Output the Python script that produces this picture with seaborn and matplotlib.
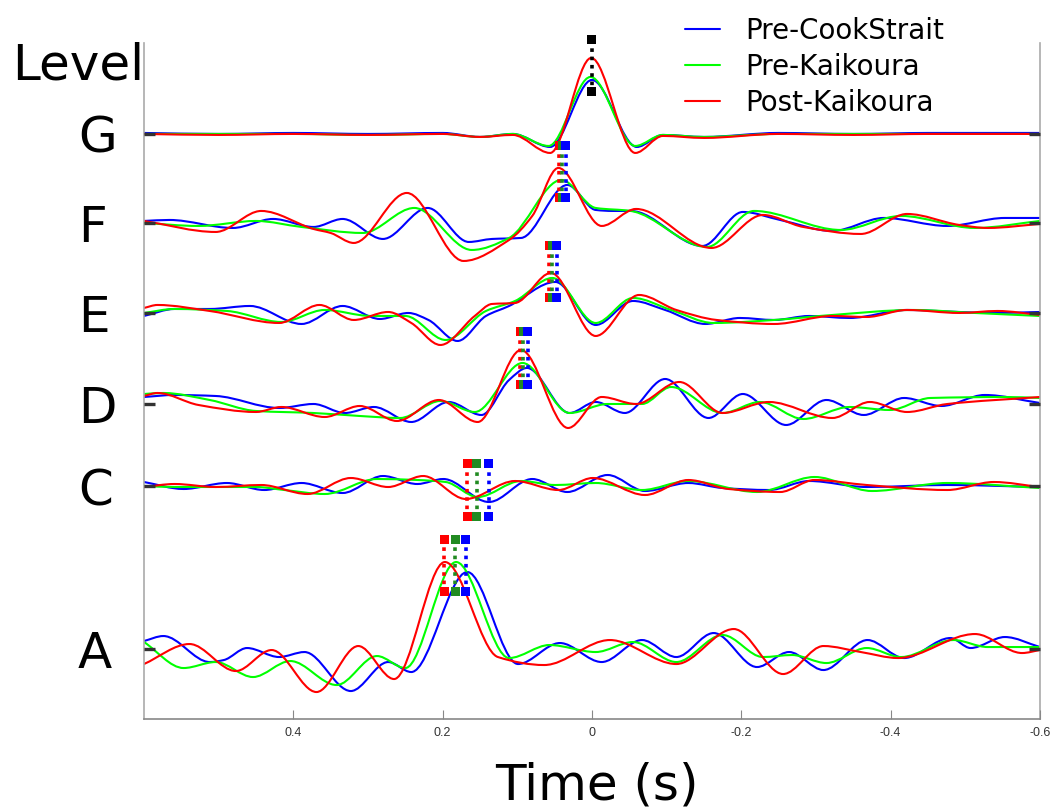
import numpy as np
import matplotlib.pyplot as plt
import seaborn as sns
import matplotlib.transforms as mtransforms
from matplotlib.path import Path
from matplotlib.patches import PathPatch
from matplotlib.lines import Line2D

# ---- data (time in s, amplitude in arbitrary units) ----
levels = ['G', 'F', 'E', 'D', 'C', 'A']
level_offsets = [585, 496, 406, 315, 233, 70]
marker_top = [94, 77, 67, 72, 22, 110]
marker_bottom = [42, 25, 15, 19, -30, 58]

pick_blue = [0.0, 0.035, 0.047, 0.086, 0.138, 0.169]
pick_green = [0.0, 0.040, 0.053, 0.092, 0.154, 0.183]
pick_red = [0.0, 0.044, 0.057, 0.096, 0.167, 0.198]

G_blue = [(0.6, 1), (0.5, 0), (0.4, 1), (0.3, 0), (0.2, 1), (0.15, -3), (0.106, 0), (0.056, -13), (0.0, 54),
          (-0.060, -13), (-0.095, -1), (-0.15, -3), (-0.25, 1), (-0.35, 0), (-0.45, 1), (-0.6, 1)]
G_green = [(0.6, 0), (0.5, 0), (0.4, 0), (0.3, -1), (0.2, 0), (0.15, -3), (0.106, 0), (0.058, -12), (0.002, 57),
           (-0.058, -12), (-0.095, -1), (-0.15, -3), (-0.25, 0), (-0.35, 0), (-0.45, 0), (-0.6, 0)]
G_red = [(0.6, 0), (0.5, -1), (0.4, 0), (0.3, -1), (0.2, 0), (0.15, -3), (0.106, -1), (0.056, -19), (0.001, 76),
         (-0.058, -19), (-0.095, -2), (-0.15, -4), (-0.25, 0), (-0.35, -1), (-0.45, 0), (-0.6, 0)]

F_blue = [(0.6, 2), (0.566, 3), (0.481, -5), (0.427, 4), (0.373, -4), (0.334, 4), (0.280, -16), (0.220, 15),
          (0.165, -19), (0.134, -16), (0.095, -15), (0.033, 38), (-0.005, 13), (-0.028, 12), (-0.052, 12),
          (-0.148, -23), (-0.202, 11), (-0.252, 3), (-0.322, -8), (-0.391, 5), (-0.476, -3), (-0.553, 5), (-0.6, 5)]
F_green = [(0.6, 0), (0.527, -3), (0.450, 2), (0.389, -4), (0.307, -10), (0.238, 15), (0.161, -27), (0.111, -15),
           (0.041, 43), (-0.005, 15), (-0.052, 12), (-0.154, -24), (-0.217, 12), (-0.333, -7), (-0.414, 7),
           (-0.513, -5), (-0.6, 2)]
F_red = [(0.6, 2), (0.504, -9), (0.443, 12), (0.373, -6), (0.350, -10), (0.319, -20), (0.248, 30), (0.172, -38),
         (0.111, -17), (0.080, 7), (0.045, 55), (-0.013, -3), (-0.059, 14), (-0.160, -25), (-0.229, 8),
         (-0.283, -4), (-0.360, -11), (-0.422, 9), (-0.492, -2), (-0.530, -5), (-0.6, -1)]

E_blue = [(0.6, -3), (0.559, 4), (0.512, 4), (0.458, 7), (0.389, -11), (0.334, 7), (0.284, -6), (0.246, 0),
          (0.219, -7), (0.180, -28), (0.142, -3), (0.111, 7), (0.049, 31), (-0.005, -12), (-0.055, 12),
          (-0.098, 3), (-0.152, -11), (-0.198, -5), (-0.244, -7), (-0.291, -3), (-0.345, -5), (-0.422, 3),
          (-0.492, 1), (-0.536, 0), (-0.6, 1)]
E_green = [(0.6, 0), (0.559, 4), (0.489, 2), (0.416, -9), (0.358, 3), (0.296, -3), (0.250, -3), (0.196, -27),
           (0.142, 2), (0.103, 12), (0.053, 35), (-0.005, -10), (-0.055, 15), (-0.106, 3), (-0.163, -10),
           (-0.244, -7), (-0.322, -2), (-0.430, 3), (-0.513, 0), (-0.6, -3)]
E_red = [(0.6, 5), (0.582, 8), (0.512, 2), (0.419, -10), (0.365, 8), (0.319, -7), (0.273, 1), (0.242, -10),
         (0.203, -32), (0.157, -3), (0.134, 9), (0.103, 10), (0.055, 40), (-0.005, -23), (-0.063, 18),
         (-0.113, 3), (-0.167, -7), (-0.244, -11), (-0.322, -3), (-0.368, -4), (-0.422, 3), (-0.492, 0),
         (-0.543, 2), (-0.6, -2)]

D_blue = [(0.6, 7), (0.559, 9), (0.504, 8), (0.419, -4), (0.373, 0), (0.331, -9), (0.292, -3), (0.242, -18),
          (0.192, 2), (0.148, -11), (0.111, 24), (0.087, 36), (0.030, -9), (-0.005, 2), (-0.044, -9),
          (-0.098, 25), (-0.156, -14), (-0.202, 10), (-0.260, -21), (-0.314, 4), (-0.364, -11), (-0.418, 6),
          (-0.468, -2), (-0.526, 9), (-0.6, 1)]
D_green = [(0.6, 10), (0.574, 11), (0.512, 4), (0.450, -7), (0.373, -9), (0.311, -12), (0.257, -14), (0.203, 3),
           (0.157, -8), (0.093, 41), (0.030, -9), (-0.021, 0), (-0.067, 0), (-0.106, 17), (-0.175, -9),
           (-0.225, 2), (-0.283, -15), (-0.345, -3), (-0.399, -6), (-0.453, 6), (-0.553, 7), (-0.6, 6)]
D_red = [(0.6, 8), (0.582, 11), (0.527, -1), (0.450, -8), (0.416, -3), (0.358, -13), (0.311, -2), (0.261, -17),
         (0.205, 4), (0.153, -18), (0.095, 54), (0.032, -24), (-0.013, 7), (-0.059, 0), (-0.117, 22),
         (-0.175, -9), (-0.237, 2), (-0.322, -14), (-0.372, 2), (-0.422, -8), (-0.476, 0), (-0.6, 7)]

C_blue = [(0.6, 4), (0.547, -3), (0.489, 3), (0.439, -4), (0.389, 3), (0.334, -7), (0.280, 10), (0.234, 2),
          (0.199, 7), (0.138, -16), (0.080, 7), (0.033, -6), (-0.021, 11), (-0.071, -5), (-0.129, 3),
          (-0.175, -2), (-0.237, -4), (-0.291, 5), (-0.368, -1), (-0.476, 1), (-0.6, -1)]
C_green = [(0.6, 0), (0.559, -1), (0.450, -1), (0.412, -4), (0.358, -8), (0.288, 7), (0.234, 6), (0.196, 4),
           (0.153, -11), (0.095, 5), (0.049, 1), (-0.005, 3), (-0.067, -4), (-0.129, 5), (-0.221, -6),
           (-0.298, 9), (-0.375, -5), (-0.476, 3), (-0.6, -2)]
C_red = [(0.6, -1), (0.559, 2), (0.504, -1), (0.443, 1), (0.381, -8), (0.323, 8), (0.273, -1), (0.226, 10),
         (0.169, -13), (0.103, 5), (0.045, -4), (-0.001, 8), (-0.071, -9), (-0.129, 6), (-0.183, -3),
         (-0.252, -6), (-0.298, 6), (-0.368, 1), (-0.476, -4), (-0.538, 4), (-0.6, -1)]

A_blue = [(0.6, 8), (0.574, 13), (0.512, -13), (0.493, -11), (0.462, 1), (0.419, -8), (0.385, -3), (0.323, -42),
          (0.273, -13), (0.242, -23), (0.167, 77), (0.099, -15), (0.043, 6), (-0.013, -13), (-0.067, 9),
          (-0.113, -8), (-0.163, 16), (-0.221, -18), (-0.264, -3), (-0.310, -21), (-0.369, 9), (-0.418, -9),
          (-0.480, 11), (-0.507, 1), (-0.553, 12), (-0.6, 2)]
A_green = [(0.6, 7), (0.547, -19), (0.504, -13), (0.454, -28), (0.404, -12), (0.342, -36), (0.288, -7),
           (0.250, -19), (0.182, 87), (0.111, -9), (0.057, 4), (-0.005, -3), (-0.055, 7), (-0.113, -13),
           (-0.175, 14), (-0.229, -8), (-0.268, -6), (-0.314, -14), (-0.368, 1), (-0.414, -8), (-0.484, 9),
           (-0.530, 2), (-0.6, 2)]
A_red = [(0.6, -15), (0.539, 5), (0.477, -22), (0.429, -1), (0.369, -43), (0.313, 3), (0.265, -30), (0.197, 87),
         (0.126, -8), (0.064, -16), (-0.024, 9), (-0.113, -15), (-0.190, 20), (-0.256, -25), (-0.310, 3),
         (-0.360, -3), (-0.410, -9), (-0.513, 15), (-0.576, -4), (-0.6, -1)]

traces = {
    'G': (G_blue, G_green, G_red), 'F': (F_blue, F_green, F_red), 'E': (E_blue, E_green, E_red),
    'D': (D_blue, D_green, D_red), 'C': (C_blue, C_green, C_red), 'A': (A_blue, A_green, A_red),
}
series_names = ['Pre-CookStrait', 'Pre-Kaikoura', 'Post-Kaikoura']
line_colors = ['#0000FF', '#00FF00', '#FF0000']
pick_colors = ['#0000FF', '#228B22', '#FF0000']

xticks = [0.4, 0.2, 0.0, -0.2, -0.4, -0.6]
xtick_labels = ['0.4', '0.2', '0', '-0.2', '-0.4', '-0.6']


def smooth_path(points, offset):
    # cubic Hermite segments through the read points, drawn as a bezier path
    t = np.array([p[0] for p in points], dtype=float)
    v = np.array([p[1] for p in points], dtype=float) + offset
    n = len(t)
    d = np.diff(v) / np.diff(t)
    m = np.zeros(n)
    m[0], m[-1] = d[0], d[-1]
    for i in range(1, n - 1):
        if d[i - 1] * d[i] > 0:
            m[i] = 2.0 / (1.0 / d[i - 1] + 1.0 / d[i])
    verts = [(t[0], v[0])]
    codes = [Path.MOVETO]
    for i in range(n - 1):
        h = t[i + 1] - t[i]
        verts += [(t[i] + h / 3, v[i] + m[i] * h / 3),
                  (t[i + 1] - h / 3, v[i + 1] - m[i + 1] * h / 3),
                  (t[i + 1], v[i + 1])]
        codes += [Path.CURVE4] * 3
    return Path(verts, codes)


sns.set_theme(style='white')
plt.rcParams['font.family'] = ['DejaVu Sans']
plt.rcParams['text.color'] = 'black'

fig = plt.figure(figsize=(10.51, 8.10), dpi=100)
ax = fig.add_axes([0.137, 0.1123, 0.8525, 0.8347])

for lvl, off in zip(levels, level_offsets):
    for pts, col in zip(traces[lvl], line_colors):
        ax.add_patch(PathPatch(smooth_path(pts, off), fill=False, edgecolor=col, lw=1.5,
                               capstyle='round', joinstyle='round', zorder=2))

# picked peak markers with dotted connectors
for i, (lvl, off) in enumerate(zip(levels, level_offsets)):
    top = off + marker_top[i]
    bot = off + marker_bottom[i]
    picks = [pick_red[i], pick_green[i], pick_blue[i]]
    cols = [pick_colors[2], pick_colors[1], pick_colors[0]]
    if lvl == 'G':
        picks, cols = [pick_red[i]], ['black']
    for tp, c in zip(picks, cols):
        ax.plot([tp, tp], [top, bot], color=c, lw=2.6, ls=(0, (1, 1.3)),
                dash_capstyle='butt', clip_on=False, zorder=4)
        sns.scatterplot(x=[tp, tp], y=[top, bot], marker='s', s=42, color=c,
                        edgecolor='none', ax=ax, clip_on=False, zorder=5, legend=False)

ax.set_xlim(0.6, -0.6)
ax.set_ylim(0, 676)
ax.set_xticks(xticks)
ax.set_xticklabels(xtick_labels, fontsize=9, color='#333333', family='Liberation Sans')
ax.set_yticks(level_offsets)
ax.set_yticklabels([])
ax.tick_params(axis='x', direction='in', length=6.5, width=0.8, color='#888888', pad=6, bottom=True)
ax.tick_params(axis='y', direction='in', length=8, width=2.4, color='#333333', left=True, right=True)
ax.grid(False)
ax.set_axisbelow(False)
for tk in ax.yaxis.get_major_ticks():
    tk.tick1line.set_zorder(6)
    tk.tick2line.set_zorder(6)
sns.despine(ax=ax, top=True, right=False)
for side in ['left', 'right', 'bottom']:
    ax.spines[side].set_color('#aaaaaa')
    ax.spines[side].set_linewidth(1.2)
ax.spines['bottom'].set_color('#888888')

# big level letters on the left
trans = mtransforms.blended_transform_factory(ax.transAxes, ax.transData)
for lvl, off in zip(levels, level_offsets):
    ax.text(-0.0737, off - 5, lvl, transform=trans, fontsize=36, ha='left', va='center', color='black')
fig.text(12 / 1051, 1 - 65 / 810, 'Level', fontsize=36, ha='left', va='center', color='black')
fig.text(597 / 1051, 1 - 785 / 810, 'Time (s)', fontsize=36, ha='center', va='center', color='black')

handles = [Line2D([], [], color=c, lw=1.5) for c in line_colors]
leg = fig.legend(handles, series_names, loc='upper left', bbox_to_anchor=(674 / 1051, 0.9926),
                 frameon=False, fontsize=20, handlelength=1.26, handletextpad=0.9,
                 labelspacing=0.28, borderaxespad=0)
for txt in leg.get_texts():
    txt.set_color('black')

fig.savefig('out.png', dpi=100)
